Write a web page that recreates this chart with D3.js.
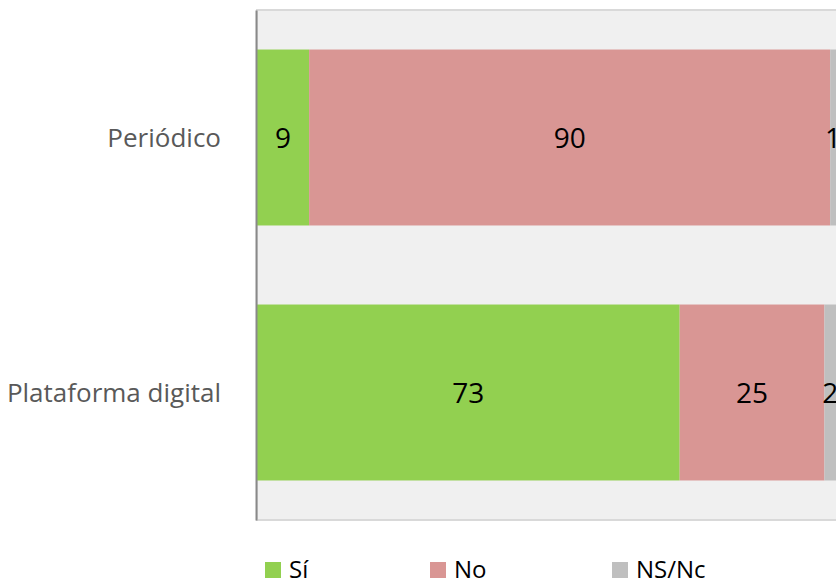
<!DOCTYPE html>
<html>
<head>
<meta charset="utf-8">
<script src="https://cdn.jsdelivr.net/npm/d3@7"></script>
<style>
  body { margin: 0; background: #fff; }
  svg { font-family: "Open Sans", "Noto Sans", sans-serif; }
</style>
</head>
<body>
<svg width="836" height="582"></svg>
<script>
const categories = ["Periódico", "Plataforma digital"];
const seriesNames = ["Sí", "No", "NS/Nc"];
const seriesColors = ["#92d050", "#d99694", "#bfbfbf"];
const valuesSi = [9, 73];
const valuesNo = [90, 25];
const valuesNs = [1, 2];

const rows = categories.map((c, i) => ({
  category: c,
  "Sí": valuesSi[i],
  "No": valuesNo[i],
  "NS/Nc": valuesNs[i],
}));

const svg = d3.select("svg");

const plotLeft = 257;
const plotRight = 836;
const plotTop = 10;
const plotBottom = 520;

const xScale = d3.scaleLinear().domain([0, 100]).range([plotLeft, plotRight]);
const yScale = d3
  .scaleBand()
  .domain(categories)
  .range([plotTop, plotBottom])
  .paddingInner(0.31)
  .paddingOuter(0.155);

// plot background
svg
  .append("rect")
  .attr("x", plotLeft)
  .attr("y", plotTop)
  .attr("width", plotRight - plotLeft + 10)
  .attr("height", plotBottom - plotTop)
  .attr("fill", "#f0f0f0")
  .attr("stroke", "#d9d9d9")
  .attr("stroke-width", 2);

const stacked = d3.stack().keys(seriesNames)(rows);

const layers = svg
  .selectAll(".layer")
  .data(stacked)
  .enter()
  .append("g")
  .attr("class", "layer")
  .attr("fill", (d, i) => seriesColors[i]);

layers
  .selectAll("rect")
  .data((d) => d)
  .enter()
  .append("rect")
  .attr("x", (d) => xScale(d[0]))
  .attr("y", (d) => yScale(d.data.category))
  .attr("width", (d) => xScale(d[1]) - xScale(d[0]))
  .attr("height", yScale.bandwidth());

// value labels, centred in each segment
layers
  .selectAll("text")
  .data((d) => d.map((p) => ({ p, key: d.key })))
  .enter()
  .append("text")
  .attr("x", (d) => (xScale(d.p[0]) + xScale(d.p[1])) / 2)
  .attr("y", (d) => yScale(d.p.data.category) + yScale.bandwidth() / 2 + 10)
  .attr("text-anchor", "middle")
  .attr("fill", "#000")
  .style("font-size", "28px")
  .text((d) => d.p.data[d.key]);

// left axis
const yAxis = svg
  .append("g")
  .attr("transform", `translate(${plotLeft - 1}, 0)`)
  .call(d3.axisLeft(yScale).tickSize(0).tickPadding(35));
yAxis.select(".domain").attr("stroke", "#898989").attr("stroke-width", 2);
yAxis
  .selectAll(".tick text")
  .attr("fill", "#595959")
  .attr("dy", null)
  .attr("y", 9)
  .style("font-size", "26px")
  .style("font-family", "'Open Sans', sans-serif");

// legend
const legendX = [265, 430, 612];
const legend = svg
  .selectAll(".legend")
  .data(seriesNames)
  .enter()
  .append("g")
  .attr("class", "legend")
  .attr("transform", (d, i) => `translate(${legendX[i]}, 562)`);

legend
  .append("rect")
  .attr("width", 16)
  .attr("height", 16)
  .attr("fill", (d, i) => seriesColors[i]);

legend
  .append("text")
  .attr("x", 24)
  .attr("y", 16)
  .style("font-size", "24px")
  .attr("fill", "#000")
  .text((d) => d);
</script>
</body>
</html>
